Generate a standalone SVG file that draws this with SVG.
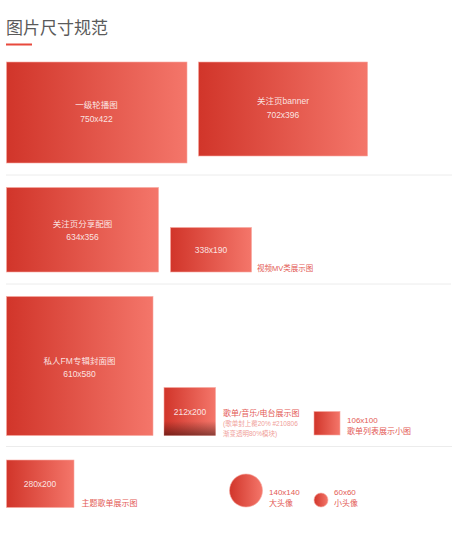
<svg xmlns="http://www.w3.org/2000/svg" width="474" height="544" viewBox="0 0 474 544">
<style>
text{font-family:"Liberation Sans","Noto Sans CJK SC",sans-serif;}
.img{fill:url(#g);stroke:#f7a9a1;stroke-width:0.6;}
.in{fill:#fff;fill-opacity:0.85;font-size:8.5px;text-anchor:middle;}
.lb{fill:#e35a55;font-size:8px;}
.sub{fill:#f0a09a;font-size:6.5px;}
.sep{stroke:#ececec;stroke-width:1;}
</style>
<defs>
<linearGradient id="g" x1="0" y1="0" x2="1" y2="0">
<stop offset="0" stop-color="#d1352a"/>
<stop offset="1" stop-color="#f4766a"/>
</linearGradient>
<linearGradient id="shade" x1="0" y1="0" x2="0" y2="1">
<stop offset="0.7" stop-color="#210806" stop-opacity="0"/>
<stop offset="1" stop-color="#210806" stop-opacity="0.5"/>
</linearGradient>
</defs>
<rect width="474" height="544" fill="#fff"/>
<g id="title">
<text x="6" y="34" style="font-size:17px;fill:#5a5a5a;font-family:'Noto Sans CJK SC',sans-serif;">图片尺寸规范</text>
<rect x="6" y="43.5" width="26" height="2" fill="#e8493c"/>
</g>
<g id="separators">
<line class="sep" x1="6" y1="175" x2="452" y2="175"/>
<line class="sep" x1="6" y1="284" x2="451" y2="284"/>
<line class="sep" x1="6" y1="446.5" x2="452" y2="446.5"/>
</g>
<g id="n750x422">
<rect class="img" x="6.5" y="62" width="180.5" height="101"/>
<text class="in" x="96.5" y="108">一级轮播图</text>
<text class="in" x="96.5" y="122">750x422</text>
</g>
<g id="n702x396">
<rect class="img" x="198.5" y="62" width="169" height="94"/>
<text class="in" x="283" y="104">关注页banner</text>
<text class="in" x="283" y="118">702x396</text>
</g>
<g id="n634x356">
<rect class="img" x="6.5" y="187.5" width="152" height="84.5"/>
<text class="in" x="82.5" y="227">关注页分享配图</text>
<text class="in" x="82.5" y="240">634x356</text>
</g>
<g id="n338x190">
<rect class="img" x="170.5" y="227.5" width="81" height="44.5"/>
<text class="in" x="211" y="253">338x190</text>
<text class="lb" x="257" y="271" style="font-size:7.5px">视频MV类展示图</text>
</g>
<g id="n610x580">
<rect class="img" x="6.5" y="296.5" width="146.5" height="139"/>
<text class="in" x="79.5" y="364">私人FM专辑封面图</text>
<text class="in" x="79.5" y="377">610x580</text>
</g>
<g id="n212x200">
<rect class="img" x="164" y="387.5" width="51.5" height="48"/>
<rect x="164" y="387.5" width="51.5" height="48" fill="url(#shade)"/>
<text class="in" x="190" y="414.5">212x200</text>
<text class="lb" x="223" y="416">歌单/音乐/电台展示图</text>
<text class="sub" x="223" y="426">(歌单封上覆20% #210806</text>
<text class="sub" x="223" y="436">渐变透明80%模块)</text>
</g>
<g id="n106x100">
<rect class="img" x="314" y="411.5" width="26" height="23.5"/>
<text class="lb" x="347" y="423">106x100</text>
<text class="lb" x="347" y="434">歌单列表展示小图</text>
</g>
<g id="n280x200">
<rect class="img" x="6.5" y="460" width="67.5" height="47.5"/>
<text class="in" x="40" y="487">280x200</text>
<text class="lb" x="81.5" y="506">主题歌单展示图</text>
</g>
<g id="n140x140">
<circle class="img" cx="246" cy="490.5" r="16.5"/>
<text class="lb" x="269" y="495">140x140</text>
<text class="lb" x="269" y="506">大头像</text>
</g>
<g id="n60x60">
<circle class="img" cx="321" cy="500" r="7"/>
<text class="lb" x="334" y="495">60x60</text>
<text class="lb" x="334" y="506">小头像</text>
</g>
</svg>
